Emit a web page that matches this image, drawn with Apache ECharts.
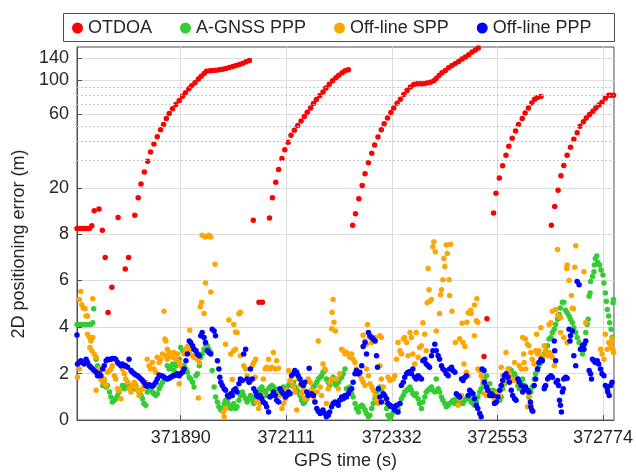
<!DOCTYPE html>
<html><head><meta charset="utf-8">
<script src="https://cdn.jsdelivr.net/npm/echarts@6/dist/echarts.min.js"></script>
<style>html,body{margin:0;padding:0;background:#fff}#c{width:636px;height:475px}</style>
</head><body><div id="c"></div>
<script>
const xTickValues = [371890, 372111, 372332, 372553, 372774];
const yTickValues = [0, 2, 4, 6, 8, 20, 60, 100, 140];
const yMinorValues = [30, 40, 50, 70, 80, 90];
const seriesNames = ['OTDOA', 'A-GNSS PPP', 'Off-line SPP', 'Off-line PPP'];

const otdoa = [[371673,8.9],[371678,8.9],[371683,8.9],[371688,8.9],[371694,8.9],[371699,8.9],[371704,9.4],[371709,12.7],[371719,13.1],[371726,8.6],[371732,6.99],[371738,4.62],[371746,5.71],[371759,11.1],[371774,6.49],[371781,6.99],[371794,11.6],[371801,16.4],[371807,21.2],
[371814,25.3],[371821,29.8],[371827,34.2],[371834,38.6],[371841,43],[371848,47.7],[371854,51.6],[371860,56.5],[371866,60.8],[371873,65.2],[371880,69.5],[371887,74],[371894,78.8],[371900,83],[371907,88],[371913,92],[371920,96.4],[371927,101.8],[371933,106.4],[371939,110.7],[371944,114.6],[371951,115.3],[371957,116],[371964,116.2],[371971,117.2],[371978,118],[371985,119.3],[371992,121],[371999,122.8],[372006,124.7],[372013,126.6],[372020,129],[372027,131.8],[372034,134.4],
[372042,10.5],[372054,5.07],[372061,5.07],[372076,10.96],
[372082,16.4],[372089,21.7],[372095,26.3],[372102,31],[372108,35.3],[372115,39.5],[372121,43.9],[372128,47.4],[372135,50.9],[372142,54.3],[372149,58.2],[372155,62],[372162,66],[372168,70.6],[372174,74.9],[372181,79.4],[372188,83.9],[372194,89],[372201,94.4],[372208,99.3],[372215,104],[372221,108],[372228,112],[372234,115.3],[372241,117.2],
[372250,9.5],[372256,11.96],[372263,16.1],[372270,20.7],[372276,24.7],[372283,29.1],[372290,33.6],[372296,38],[372303,42.8],[372310,47.7],[372316,52.1],[372323,56.8],[372330,61.8],[372336,66],[372343,71],[372350,75.3],[372357,80.7],[372364,86],[372371,90.4],[372378,94],[372385,95.1],[372392,95.1],[372399,95.1],[372406,95.9],[372413,97.3],[372420,99.3],[372425,102.8],[372431,107.5],[372437,111.9],[372444,115.8],[372451,120.5],[372458,124.7],[372465,128.4],[372472,132.3],[372479,137.7],[372486,141.9],[372493,146.8],[372500,152.8],[372507,157.5],[372513,162],
[372525,2.73],[372531,4.36],
[372545,12.1],[372550,17.95],[372557,23.2],[372564,27.8],[372571,32.6],[372577,37.3],[372584,42],[372591,46.8],[372597,51.6],[372605,56.5],[372611,61.4],[372618,66],[372625,71.2],[372631,75.3],[372637,77.2],[372644,78.6],
[372666,9.5],[372673,13.8],[372680,19.04],[372686,24],[372692,27.9],[372699,32.6],[372706,36.7],[372713,41.4],[372720,45.6],[372726,50.2],[372733,53.7],[372739,56.8],[372746,60],[372753,63],[372759,66],[372766,69.1],[372772,72],[372779,76.4],[372786,79.8],[372791,80],[372796,80]];

const agnssPPP = [[371673,4.11],[371677,4.11],[371681,4.11],[371686,4.11],[371690,4.11],[371694,4.11],[371698,4.11],[371702,4.11],[371706,4.18],[371708,4.78],[371713,2.62],[371716,2.34],[371720,1.91],[371723,1.77],[371727,1.49],[371730,1.63],[371734,1.42],[371737,1.49],[371741,1.21],[371744,0.99],[371747,0.78],[371751,0.85],[371754,0.92],[371758,1.06],[371761,1.21],[371768,1.49],[371772,1.35],[371775,1.49],[371779,1.42],[371782,1.49],[371786,1.35],[371789,1.42],[371793,1.35],[371796,1.49],[371800,1.28],[371803,1.21],[371807,1.06],[371810,0.92],[371813,0.71],[371817,0.64],[371820,1.21],[371824,1.35],[371827,1.28],[371831,1.21],[371834,1.13],[371838,1.06],[371841,1.13],[371845,1.35],[371848,1.49],[371852,1.63],[371857,1.77],
[371862,2.34],[371866,2.20],[371869,2.27],[371873,2.41],[371876,2.13],[371880,2.34],[371883,2.48],[371887,2.62],[371890,3.12],[371894,2.98],[371897,2.34],[371901,2.20],[371904,2.06],[371908,1.84],[371911,1.77],[371915,1.63],[371918,1.42],[371922,1.91],[371925,1.99],[371929,2.34],[371932,2.70],[371935,2.84],[371939,3.05],[371942,3.26],[371946,3.19],[371949,3.05],[371953,2.91],[371956,2.13],[371960,1.42],[371963,0.99],[371967,0.78],[371970,0.57],[371974,0.43],[371977,0.50],[371981,0.71],[371984,0.85],[371988,0.78],[371991,0.57],[371995,0.50],[371998,0.64],[372001,0.71],[372005,0.50],[372008,0.57],[372012,0.85],[372015,1.06],[372019,1.21],[372022,1.06],[372026,0.92],[372029,0.78],[372033,0.92],[372036,1.06],[372040,0.85],[372043,0.71],[372047,0.99],
[372049,1.06],[372053,1.21],[372056,1.35],[372060,1.42],[372063,1.28],[372067,1.21],[372070,1.06],[372074,1.35],[372077,1.42],[372081,1.49],[372084,1.42],[372088,1.35],[372091,1.28],[372095,1.21],[372098,1.28],[372102,1.35],[372105,1.42],[372109,1.35],[372112,1.28],[372116,1.49],[372119,1.56],[372122,1.49],[372126,1.63],[372129,1.42],[372133,1.28],[372136,1.21],[372140,1.06],[372143,0.85],[372147,0.71],[372150,0.78],[372154,0.92],[372157,1.06],[372161,1.13],[372164,1.28],[372168,1.42],[372171,1.49],[372175,1.63],[372178,1.77],[372182,1.84],[372185,1.91],[372188,2.06],[372192,2.13],[372195,1.77],[372199,1.63],[372202,1.49],[372206,1.70],[372209,1.84],[372213,1.56],[372216,1.49],[372220,1.63],[372223,1.77],[372227,1.84],[372230,1.99],[372234,2.20],
[372237,1.35],[372241,1.28],[372244,1.42],[372248,1.13],[372251,0.99],[372255,0.71],[372258,0.50],[372262,0.35],[372265,0.57],[372269,0.64],[372272,0.57],[372276,0.43],[372279,0.28],[372283,0.14],[372286,0.21],[372290,0.50],[372293,0.71],[372297,0.92],[372300,1.21],[372304,1.35],[372307,1.42],[372310,1.28],[372314,1.06],[372317,0.78],[372321,0.50],[372324,0.21],[372328,0.07],[372331,0.21],[372335,0.35],[372338,0.43],[372342,0.35],[372345,0.50],[372349,0.71],[372352,0.92],[372356,1.06],[372359,1.21],[372363,1.28],[372366,1.35],[372370,1.42],[372373,1.28],[372376,1.13],[372380,1.06],[372383,1.13],[372387,0.92],[372390,0.71],[372394,0.50],[372397,0.78],[372401,0.99],[372404,1.21],[372408,1.28],[372411,1.35],[372415,1.42],[372418,1.28],[372422,1.21],
[372425,1.77],[372429,1.35],[372432,1.21],[372436,0.99],[372439,0.85],[372443,0.71],[372446,0.57],[372450,0.64],[372453,0.71],[372457,0.78],[372460,0.85],[372464,0.71],[372467,0.92],[372471,0.78],[372474,0.71],[372478,0.78],[372481,0.71],[372485,0.85],[372488,0.92],[372492,1.06],[372495,0.92],[372498,0.78],[372502,0.71],[372505,0.64],[372509,0.78],[372512,0.99],[372516,1.21],[372519,1.35],[372523,1.56],[372526,1.77],[372530,1.91],[372533,1.35],[372537,1.56],[372540,1.06],[372544,1.28],[372547,1.13],[372551,1.21],[372554,1.06],[372558,0.85],[372561,0.99],[372564,1.35],[372568,1.56],[372571,1.77],[372575,1.99],[372578,2.20],[372582,2.13],[372585,1.91],[372589,1.99],[372592,1.84],[372596,1.49],[372599,1.35],[372603,1.56],[372606,1.77],[372610,1.49],
[372612,1.42],[372616,1.28],[372619,0.99],[372623,1.21],[372626,1.42],[372630,1.77],[372633,1.99],[372637,2.13],[372640,2.34],[372644,2.48],[372647,2.62],[372651,2.84],[372654,2.98],[372658,3.19],[372661,3.48],[372665,3.55],[372668,3.76],[372672,3.90],[372675,4.11],[372679,4.33],[372682,4.54],[372685,4.82],[372689,5.06],[372692,5.06],[372696,4.72],[372699,4.61],[372703,4.47],[372706,4.33],[372710,4.18],[372713,3.97],[372717,3.76],[372720,3.55],[372724,3.33],[372727,3.05],[372731,2.84],[372734,3.05],[372738,3.76],[372741,4.11],[372743,4.33],[372745,5.32],[372747,5.46],[372748,5.96],[372752,6.17],[372755,6.38],[372756,6.67],[372758,6.95],[372761,7.05],[372763,6.77],[372767,6.67],[372770,6.45],[372774,6.24],[372776,5.89],[372779,5.46],[372781,5.11],[372783,4.75],[372786,4.47],[372788,4.18],[372791,3.90],[372793,3.55],[372795,5.04],[372796,5.18]];

const offlineSPP = [[371672,3.08],[371674,1.84],[371678,5.18],[371678,2.20],[371681,5.53],[371683,4.96],[371686,4.82],[371690,4.78],[371692,4.47],[371695,4.47],[371695,3.69],[371699,3.55],[371700,3.12],[371702,3.40],[371704,2.98],[371706,5.21],[371706,3.55],[371709,2.84],[371713,2.70],[371713,1.28],[371720,2.20],[371723,1.77],[371727,1.63],[371730,1.77],[371734,1.49],[371737,2.06],[371741,2.13],[371744,2.20],[371747,2.34],[371751,1.91],[371754,1.77],[371758,1.35],[371761,1.28],[371765,0.92],[371768,2.20],[371772,1.99],[371775,1.77],[371779,1.63],[371782,1.35],[371786,1.21],[371789,1.49],[371793,1.63],[371796,1.42],[371800,1.28],[371803,1.06],[371807,1.28],[371810,1.35],[371813,1.49],[371817,1.63],[371820,2.62],[371824,2.34],[371827,2.20],[371831,2.48],[371834,2.20],[371838,2.06],[371841,2.70],[371845,2.48],[371848,2.62],[371852,2.84],[371855,4.68],[371857,3.48],[371859,2.77],[371862,2.62],
[371859,3.40],[371862,3.05],[371866,2.91],[371869,2.77],[371873,2.70],[371876,2.91],[371880,2.62],[371883,2.84],[371887,2.48],[371887,1.56],[371890,2.34],[371894,2.20],[371897,2.84],[371901,3.05],[371904,3.16],[371908,2.91],[371909,3.86],[371911,3.05],[371915,2.77],[371918,2.70],[371922,2.84],[371925,2.62],[371927,0.95],[371929,2.48],[371931,4.87],[371934,5.06],[371935,7.94],[371939,4.58],[371941,7.87],[371942,5.89],[371946,7.90],[371949,7.94],[371953,5.50],[371953,7.87],[371962,6.70],[371979,0.35],[371981,0.14],[371984,3.26],[371984,0.50],[371991,4.30],[371995,2.84],[371998,1.74],[372001,4.11],[372001,2.98],[372005,3.79],[372005,3.05],[372008,3.76],[372012,4.57],[372015,4.64],[372015,2.77],[372022,2.34],[372026,2.20],[372029,1.91],[372033,1.77],[372036,1.63],[372040,2.34],[372043,2.48],[372047,2.62],
[372046,1.84],[372049,0.78],[372053,0.50],[372056,0.71],[372060,1.06],[372063,1.77],[372067,2.20],[372070,2.27],[372074,2.62],[372077,2.20],[372081,2.27],[372084,2.91],[372088,2.20],[372091,2.55],[372095,2.23],[372098,1.06],[372102,0.50],[372105,0.71],[372109,0.92],[372112,1.28],[372116,2.13],[372119,1.70],[372122,1.63],[372126,1.42],[372129,1.21],[372133,0.43],[372136,1.77],[372140,1.49],[372143,1.13],[372147,1.28],[372150,0.92],[372154,0.99],[372157,1.77],[372161,1.63],[372164,1.28],[372168,0.99],[372171,0.78],[372175,1.21],[372178,3.40],[372182,1.42],[372185,1.06],[372188,2.41],[372192,2.20],[372195,0.71],[372199,1.35],[372202,1.63],[372206,1.77],[372206,3.93],[372207,4.64],[372209,5.18],[372211,4.21],[372214,3.83],[372216,1.77],[372220,1.35],[372223,1.99],[372227,3.05],[372230,2.98],[372234,2.84],
[372237,2.91],[372241,2.84],[372244,2.70],[372248,2.84],[372251,2.62],[372255,2.48],[372258,2.20],[372262,2.06],[372265,1.91],[372269,1.77],[372272,3.65],[372272,1.63],[372276,3.40],[372276,1.49],[372279,3.26],[372279,2.20],[372281,4.11],[372283,1.91],[372286,3.55],[372286,1.56],[372290,3.33],[372290,1.42],[372293,1.28],[372297,3.55],[372297,1.06],[372300,0.85],[372304,0.71],[372307,3.62],[372307,2.34],[372310,3.55],[372310,1.77],[372314,1.42],[372317,1.06],[372321,0.78],[372324,1.84],[372328,1.70],[372335,1.77],[372338,1.91],[372342,2.62],[372345,3.33],[372349,2.98],[372352,2.84],[372356,3.48],[372359,3.55],[372363,3.33],[372366,2.77],[372370,3.76],[372373,3.55],[372376,2.84],[372380,2.41],[372383,3.76],[372387,2.70],[372390,3.12],[372394,3.19],[372397,4.18],[372401,3.69],[372404,2.98],[372406,5.04],[372408,6.52],[372410,5.60],[372411,5.11],[372415,5.18],[372418,7.45],[372420,7.66],[372423,7.23],[372425,3.83],
[372432,4.58],[372434,5.39],[372436,5.60],[372439,6.03],[372441,6.95],[372443,6.60],[372446,7.52],[372448,7.16],[372452,6.03],[372453,5.35],[372455,7.56],[372458,4.68],[372465,3.33],[372471,0.64],[372474,3.50],[372474,0.92],[372478,1.06],[372479,4.16],[372481,3.33],[372483,2.41],[372485,3.16],[372488,2.06],[372489,4.21],[372492,4.61],[372492,1.89],[372495,4.64],[372497,4.72],[372498,4.58],[372505,4.95],[372505,3.62],[372509,4.27],[372510,5.21],[372512,4.21],[372512,2.20],[372516,2.13],[372519,1.91],[372523,1.70],[372526,1.63],[372526,1.13],[372530,1.06],[372533,1.28],[372537,1.21],[372540,1.06],[372544,0.99],[372547,0.78],[372551,1.13],[372558,1.06],[372561,2.27],[372564,1.91],[372568,1.63],[372571,2.91],[372575,2.20],[372578,1.99],[372582,1.77],[372585,1.70],[372589,2.48],[372592,1.77],[372596,1.63],[372599,2.34],[372603,2.20],[372606,3.55],[372608,2.84],[372611,1.35],
[372609,2.48],[372612,3.48],[372612,2.20],[372616,3.26],[372616,0.57],[372619,3.19],[372619,1.06],[372623,2.91],[372623,0.71],[372626,2.62],[372630,2.41],[372633,2.98],[372635,3.69],[372637,2.84],[372640,2.98],[372644,3.97],[372647,2.77],[372651,3.19],[372654,2.98],[372658,2.77],[372661,4.11],[372661,2.91],[372665,4.18],[372665,2.84],[372668,4.68],[372668,2.70],[372672,2.34],[372675,4.75],[372679,7.33],[372679,4.50],[372685,4.40],[372685,3.76],[372692,3.55],[372698,6.52],[372699,6.67],[372699,3.33],[372703,6.00],[372708,5.35],[372710,4.81],[372712,4.78],[372715,6.57],[372717,7.49],[372734,6.38],[372738,4.18],[372769,3.05],[372772,2.84],[372776,2.62],[372779,3.69],[372783,3.05],[372786,3.33],[372790,3.26],[372791,3.12],[372793,3.48],[372795,3.05],[372796,2.91]];

const offlinePPP = [[371673,3.66],[371674,2.41],[371678,2.48],[371681,2.55],[371685,2.48],[371688,2.41],[371692,2.62],[371695,2.48],[371699,2.34],[371702,2.27],[371706,2.20],[371709,2.13],[371713,2.06],[371716,1.91],[371720,1.99],[371723,1.91],[371727,2.20],[371730,2.34],[371734,2.55],[371737,2.62],[371741,2.60],[371744,2.62],[371747,2.65],[371751,2.65],[371754,2.62],[371758,2.48],[371761,2.41],[371765,2.34],[371768,2.41],[371772,2.34],[371775,2.34],[371779,2.27],[371782,2.62],[371786,2.13],[371789,2.06],[371793,1.99],[371796,1.94],[371800,1.91],[371803,1.84],[371807,1.77],[371810,1.70],[371813,1.63],[371817,1.49],[371820,1.46],[371824,1.52],[371827,1.49],[371831,1.46],[371834,1.52],[371838,1.63],[371841,1.77],[371845,1.94],[371848,1.91],[371852,1.89],[371855,1.84],[371859,1.80],
[371862,1.77],[371866,1.80],[371869,1.84],[371873,1.89],[371876,1.91],[371880,1.94],[371883,1.99],[371887,1.91],[371890,1.99],[371894,2.06],[371897,2.20],[371901,2.55],[371904,2.84],[371908,3.40],[371911,3.33],[371915,3.19],[371918,3.05],[371922,2.98],[371925,2.84],[371929,2.77],[371932,3.62],[371935,3.76],[371939,3.55],[371942,3.33],[371946,2.98],[371949,2.91],[371953,2.84],[371956,3.90],[371960,3.83],[371963,3.62],[371967,2.55],[371970,2.20],[371972,1.84],[371974,1.63],[371977,1.49],[371981,1.35],[371984,1.28],[371988,1.06],[371991,0.99],[371995,1.13],[371998,1.06],[372001,1.28],[372005,1.35],[372008,1.21],[372012,1.56],[372015,1.77],[372019,1.70],[372022,2.84],[372026,3.05],[372029,1.77],[372033,1.63],[372036,2.20],[372040,1.77],[372043,1.35],[372047,1.21],
[372049,1.06],[372053,0.99],[372056,1.06],[372060,0.92],[372063,0.78],[372067,0.71],[372070,0.57],[372074,0.35],[372077,0.99],[372081,1.06],[372084,1.21],[372088,1.06],[372091,0.85],[372095,0.78],[372098,1.35],[372102,1.21],[372105,1.13],[372109,0.99],[372112,1.06],[372116,1.21],[372119,1.13],[372122,1.91],[372126,1.99],[372129,2.13],[372133,2.06],[372136,1.91],[372140,1.77],[372143,1.56],[372147,1.49],[372150,1.63],[372154,1.21],[372157,1.06],[372159,2.23],[372164,1.13],[372168,1.06],[372171,0.78],[372175,0.50],[372178,0.38],[372182,0.28],[372185,0.35],[372188,0.43],[372192,0.28],[372195,0.14],[372199,0.21],[372202,0.35],[372206,0.57],[372209,0.71],[372213,0.78],[372216,0.71],[372220,0.64],[372223,0.85],[372227,0.99],[372230,0.92],[372234,1.06],
[372237,0.99],[372241,1.13],[372244,1.28],[372248,1.35],[372251,1.63],[372255,1.99],[372258,2.13],[372262,1.99],[372265,2.06],[372269,2.34],[372272,3.16],[372276,3.33],[372279,2.84],[372283,3.76],[372286,3.62],[372290,3.55],[372293,3.48],[372297,3.40],[372300,2.77],[372302,2.27],[372304,1.35],[372307,0.99],[372310,0.78],[372314,1.13],[372317,1.06],[372321,0.92],[372324,0.71],[372328,0.64],[372331,0.57],[372335,0.57],[372338,0.43],[372342,0.64],[372345,0.35],[372349,0.71],[372352,1.49],[372356,1.63],[372359,1.84],[372363,1.99],[372366,2.06],[372370,2.09],[372373,1.99],[372376,2.20],[372380,1.84],[372383,1.77],[372387,1.91],[372390,1.84],[372394,1.77],[372397,2.55],[372401,2.62],[372404,2.41],[372408,2.34],[372411,2.27],[372415,2.77],[372418,2.98],[372422,3.26],
[372425,2.98],[372429,2.77],[372432,2.62],[372436,2.34],[372439,2.20],[372443,2.13],[372446,1.99],[372450,1.91],[372453,2.20],[372457,2.27],[372460,2.13],[372464,2.06],[372467,1.13],[372471,1.06],[372474,0.99],[372478,1.77],[372481,1.70],[372485,1.84],[372488,1.91],[372492,1.06],[372495,1.28],[372498,1.21],[372502,1.13],[372505,0.92],[372509,0.64],[372512,0.50],[372516,0.28],[372519,0.14],[372521,2.20],[372525,2.13],[372526,1.63],[372530,1.42],[372533,1.28],[372537,1.06],[372540,1.13],[372544,1.06],[372547,0.71],[372551,0.78],[372554,0.99],[372558,1.28],[372561,1.49],[372564,1.70],[372568,1.91],[372571,1.99],[372575,1.84],[372578,1.63],[372582,1.28],[372585,1.06],[372589,0.92],[372592,0.85],[372596,1.77],[372599,1.63],[372603,1.49],[372606,1.21],[372610,1.35],
[372612,1.42],[372616,1.28],[372619,1.21],[372622,0.78],[372623,0.57],[372625,0.43],[372627,0.38],[372630,1.49],[372633,1.77],[372637,2.20],[372640,2.48],[372644,2.62],[372647,2.55],[372651,1.35],[372652,1.42],[372654,1.49],[372658,1.77],[372661,1.84],[372665,1.91],[372668,1.84],[372672,3.40],[372673,2.98],[372675,2.55],[372676,1.63],[372679,1.70],[372681,1.49],[372683,0.85],[372685,0.64],[372687,0.35],[372689,1.21],[372691,1.35],[372692,1.77],[372696,1.84],[372699,1.80],[372703,3.90],[372705,3.40],[372706,3.62],[372710,3.83],[372713,2.77],[372717,2.34],[372720,5.96],[372724,5.82],[372727,3.05],[372731,3.19],[372734,3.05],[372735,3.26],[372738,3.40],[372745,2.13],[372748,1.99],[372750,1.77],[372752,2.62],[372755,2.55],[372758,2.48],[372762,2.55],[372765,2.41],[372769,2.20],[372772,1.99],[372776,1.91],[372779,1.49],[372783,1.35],[372784,1.21],[372787,1.06],[372790,1.49],[372793,1.63]];

// piecewise y scale: linear 0-8, then log-like above (as in the reference axis)
function T(v) {
  if (v <= 8) return v * 23.45;
  if (v <= 20) return 187.6 + 46.5 * Math.log10(v / 8) / Math.log10(2.5);
  return 234.1 + 155 * Math.log10(v / 20);
}
function invT(t) {
  if (t <= 187.6 + 1e-6) return t / 23.45;
  if (t <= 234.1 + 1e-6) return 8 * Math.pow(2.5, (t - 187.6) / 46.5);
  return 20 * Math.pow(10, (t - 234.1) / 155);
}
const conv = arr => arr.map(d => [d[0], T(d[1])]);

const FONT = '"Liberation Sans", Arial, sans-serif';
const AXC = '#4d4d4d';
const TXT = '#262626';
const colors = ['#ff0000', '#33cc33', '#ffa500', '#0000ff'];
const datasets = [otdoa, agnssPPP, offlineSPP, offlinePPP];

const chart = echarts.init(document.getElementById('c'), null, { renderer: 'canvas' });
const series = [{
  type: 'scatter', name: '_grid', data: [], z: 1, silent: true,
  markLine: {
    silent: true, symbol: ['none', 'none'], label: { show: false },
    lineStyle: { type: [2, 2], color: '#c8c8c8', width: 1 },
    data: yMinorValues.map(v => ({ yAxis: T(v) }))
  }
}];
seriesNames.forEach((n, i) => {
  series.push({
    type: 'scatter', name: n, data: conv(datasets[i]), symbol: 'circle', symbolSize: 5.5,
    itemStyle: { color: colors[i], opacity: 1 }, silent: true, z: 2 + i
  });
});

chart.setOption({
  animation: false,
  backgroundColor: '#fff',
  textStyle: { fontFamily: FONT },
  grid: { left: 77, right: 20, top: 47, bottom: 52, show: true, borderColor: AXC, borderWidth: 1, backgroundColor: 'rgba(0,0,0,0)' },
  graphic: [
    { type: 'rect', z: 1, shape: { x: 63.5, y: 13.5, width: 551, height: 28 }, style: { fill: '#fff', stroke: AXC, lineWidth: 1 } },
    { type: 'text', z: 5, x: 19, y: 244, rotation: Math.PI / 2,
      style: { text: '2D positioning error (m)', font: '18px "Liberation Sans", Arial, sans-serif', fill: TXT, align: 'center', verticalAlign: 'middle', textAlign: 'center', textVerticalAlign: 'middle' } }
  ],
  legend: {
    data: seriesNames, left: 72, top: 19, z: 10, icon: 'circle', itemWidth: 11, itemHeight: 11, itemGap: 28,
    padding: 0, textStyle: { fontSize: 18, color: TXT, fontFamily: FONT }
  },
  xAxis: {
    type: 'value', min: 371673, max: 372797,
    axisLine: { show: true, lineStyle: { color: AXC } },
    axisTick: { show: true, inside: true, length: 5, customValues: xTickValues, lineStyle: { color: AXC } },
    axisLabel: { customValues: xTickValues, fontSize: 18, color: TXT, margin: 9, formatter: v => String(Math.round(v)) },
    splitLine: { show: true, lineStyle: { color: '#dcdcdc', width: 1 } },
    name: 'GPS time (s)', nameLocation: 'middle', nameGap: 31, nameTextStyle: { fontSize: 18, color: TXT }
  },
  yAxis: {
    type: 'value', min: 0, max: 376,
    axisLine: { show: true, lineStyle: { color: AXC } },
    axisTick: { show: true, inside: true, length: 5, customValues: yTickValues.map(T), lineStyle: { color: AXC } },
    axisLabel: { customValues: yTickValues.map(T), fontSize: 18, color: TXT, margin: 8, formatter: v => String(Math.round(invT(v))) },
    splitLine: { show: true, lineStyle: { color: '#dcdcdc', width: 1 } }
  },
  series: series
});
</script>
